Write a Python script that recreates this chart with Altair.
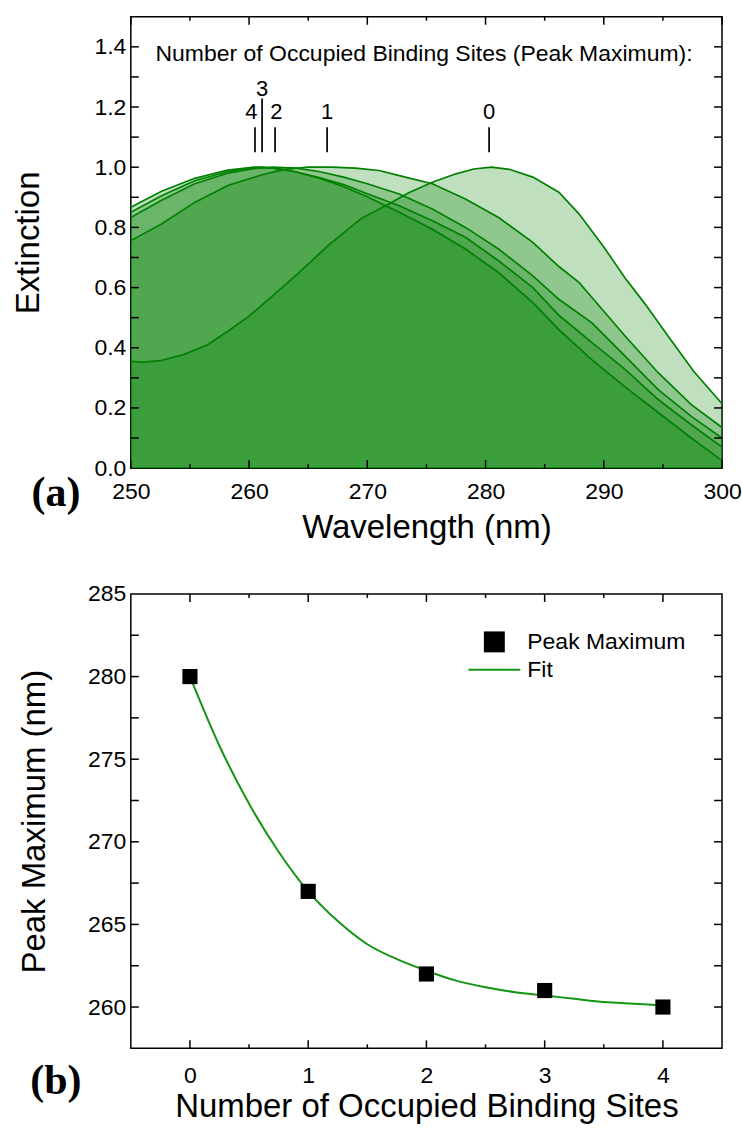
import altair as alt
import pandas as pd

# ---------------- Panel (a): extinction spectra ----------------
c0_x = [250, 251, 252.5, 254.5, 256.5, 258.2, 260, 262.5, 264.5, 266.7, 269.5, 271.7, 273.5, 275.5, 277.5, 279, 280.5, 282, 284, 286.2, 287.9, 290, 291.8, 293.5, 295.6, 297.6, 300]
c0_y = [0.355, 0.352, 0.357, 0.378, 0.41, 0.455, 0.505, 0.59, 0.66, 0.74, 0.83, 0.875, 0.915, 0.95, 0.978, 0.994, 1.0, 0.993, 0.967, 0.917, 0.845, 0.735, 0.632, 0.545, 0.43, 0.322, 0.214]

c1_x = [250, 252.6, 255.4, 258.2, 261.1, 263, 265, 267, 269, 271, 272.7, 275.5, 278.3, 281.1, 284, 286.2, 287.9, 289, 291.8, 294.6, 297.4, 300]
c1_y = [0.756, 0.811, 0.883, 0.939, 0.975, 0.993, 1.0, 1.0, 0.997, 0.989, 0.972, 0.945, 0.894, 0.833, 0.75, 0.67, 0.617, 0.567, 0.439, 0.317, 0.211, 0.135]

c2_x = [250, 252.6, 255.4, 258.2, 260.5, 262, 264, 266, 268, 270, 272.7, 275.5, 278.3, 281.1, 284, 286.2, 289, 291.8, 294.6, 297.4, 300]
c2_y = [0.833, 0.89, 0.945, 0.98, 0.996, 1.0, 0.997, 0.985, 0.967, 0.945, 0.911, 0.861, 0.8, 0.728, 0.639, 0.561, 0.483, 0.372, 0.261, 0.172, 0.1]

c3_x = [250, 252.6, 255.4, 258.2, 260, 261, 262.5, 264, 266, 268, 270, 272.7, 275.5, 278.3, 281.1, 284, 286.2, 289, 291.8, 294.6, 297.4, 300]
c3_y = [0.85, 0.905, 0.955, 0.985, 0.998, 1.0, 0.995, 0.984, 0.965, 0.942, 0.912, 0.872, 0.822, 0.767, 0.689, 0.6, 0.508, 0.417, 0.328, 0.228, 0.144, 0.07]

c4_x = [250, 252.6, 255.4, 258.2, 260.5, 262, 264, 266, 268, 270, 272.7, 275.5, 278.3, 281.1, 284, 286.2, 289, 291.8, 294.6, 297.4, 300]
c4_y = [0.867, 0.92, 0.963, 0.99, 1.0, 0.997, 0.984, 0.963, 0.935, 0.902, 0.85, 0.794, 0.728, 0.65, 0.55, 0.46, 0.36, 0.27, 0.185, 0.1, 0.025]

series_names = ["0", "1", "2", "3", "4"]

# peak-marker annotation
ann_x = [280.3, 266.6, 262.2, 261.1, 260.5]
ann_top = [1.133, 1.133, 1.133, 1.228, 1.133]
ann_bottom = [1.05, 1.05, 1.05, 1.05, 1.05]
ann_label_x = [280.3, 266.6, 262.3, 261.1, 260.2]
ann_label_y = [1.183, 1.183, 1.183, 1.261, 1.183]
ann_title = "Number of Occupied Binding Sites (Peak Maximum):"
ann_title_x = [274.8]
ann_title_y = [1.377]

# axis ticks panel (a)
a_xmajor = [250, 260, 270, 280, 290, 300]
a_xminor = [255, 265, 275, 285, 295]
a_yticks = [0.1, 0.2, 0.3, 0.4, 0.5, 0.6, 0.7, 0.8, 0.9, 1.0, 1.1, 1.2, 1.3, 1.4]
a_ylabels = [0.0, 0.2, 0.4, 0.6, 0.8, 1.0, 1.2, 1.4]

# ---------------- Panel (b): peak maximum vs sites ----------------
sites = [0, 1, 2, 3, 4]
peak_max = [280, 267, 262, 261, 260]
fit_x = [0.0, 0.25, 0.5, 0.75, 1.0, 1.25, 1.5, 1.75, 2.0, 2.25, 2.5, 2.75, 3.0, 3.25, 3.5, 3.75, 4.0]
fit_y = [280.0, 275.8, 272.3, 269.4, 267.0, 265.2, 263.8, 262.9, 262.2, 261.6, 261.2, 260.9, 260.7, 260.5, 260.3, 260.2, 260.1]
b_xmajor = [0, 1, 2, 3, 4]
b_xminor = [0.5, 1.5, 2.5, 3.5]
b_yticks = [260, 262.5, 265, 267.5, 270, 272.5, 275, 277.5, 280, 282.5]
b_ylabels = [260, 265, 270, 275, 280, 285]
legend_labels = ["Peak Maximum", "Fit"]

FONT = "Liberation Sans"
GREEN = "#008000"
FITGREEN = "#139413"
W, H = 592, 452
W2, H2 = 592, 455

# ---------- build panel (a) ----------
rows = []
for name, xs, ys in zip(series_names, [c0_x, c1_x, c2_x, c3_x, c4_x], [c0_y, c1_y, c2_y, c3_y, c4_y]):
    for x, y in zip(xs, ys):
        rows.append({"series": name, "wl": x, "ext": y})
spec = pd.DataFrame(rows)

xsc = alt.Scale(domain=[250, 300], nice=False, zero=False)
ysc = alt.Scale(domain=[0, 1.5], nice=False)

xax = alt.Axis(values=a_xmajor, title="Wavelength (nm)", labelPadding=12, titlePadding=8,
               ticks=False, tickSize=0, domain=False, grid=False, labelFlush=False)
yax = alt.Axis(values=a_ylabels, format=".1f", title="Extinction", labelPadding=5, titlePadding=48,
               ticks=False, tickSize=0, domain=False, grid=False)

base_a = alt.Chart(spec)
areas = base_a.mark_area(color=GREEN, fillOpacity=0.25, strokeWidth=0).encode(
    x=alt.X("wl:Q", scale=xsc, axis=xax),
    y=alt.Y("ext:Q", scale=ysc, axis=yax, stack=None),
    detail="series:N",
)
lines = base_a.mark_line(color=GREEN, strokeWidth=1.7).encode(
    x=alt.X("wl:Q", scale=xsc),
    y=alt.Y("ext:Q", scale=ysc),
    detail="series:N",
)

ann_df = pd.DataFrame({"x": ann_x, "top": ann_top, "bot": ann_bottom,
                       "lx": ann_label_x, "ly": ann_label_y, "t": series_names})
ann_rules = alt.Chart(ann_df).mark_rule(color="black", strokeWidth=1.7).encode(
    x=alt.X("x:Q", scale=xsc), y=alt.Y("bot:Q", scale=ysc), y2="top:Q")
ann_text = alt.Chart(ann_df).mark_text(font=FONT, fontSize=22, color="black", baseline="middle").encode(
    x=alt.X("lx:Q", scale=xsc), y=alt.Y("ly:Q", scale=ysc), text="t:N")
title_df = pd.DataFrame({"x": ann_title_x, "y": ann_title_y, "t": [ann_title]})
ann_title_mark = alt.Chart(title_df).mark_text(font=FONT, fontSize=23, color="black", baseline="middle").encode(
    x=alt.X("x:Q", scale=xsc), y=alt.Y("y:Q", scale=ysc), text="t:N")

def tick_layers_x(values, scale, length, h):
    df = pd.DataFrame({"v": values})
    bottom = alt.Chart(df).mark_rule(color="black", strokeWidth=1.5).encode(
        x=alt.X("v:Q", scale=scale), y=alt.value(h), y2=alt.value(h - length))
    top = alt.Chart(df).mark_rule(color="black", strokeWidth=1.5).encode(
        x=alt.X("v:Q", scale=scale), y=alt.value(0), y2=alt.value(length))
    return bottom + top

def tick_layers_y(values, scale, length, w):
    df = pd.DataFrame({"v": values})
    left = alt.Chart(df).mark_rule(color="black", strokeWidth=1.5).encode(
        y=alt.Y("v:Q", scale=scale), x=alt.value(0), x2=alt.value(length))
    right = alt.Chart(df).mark_rule(color="black", strokeWidth=1.5).encode(
        y=alt.Y("v:Q", scale=scale), x=alt.value(w), x2=alt.value(w - length))
    return left + right

label_a = alt.Chart(pd.DataFrame({"t": ["(a)"]})).mark_text(
    font="Liberation Serif", fontWeight="bold", fontSize=42, color="black", baseline="middle").encode(
    x=alt.value(-75), y=alt.value(477), text="t:N")

panel_a = alt.layer(
    areas, lines, ann_rules, ann_text, ann_title_mark,
    tick_layers_x(a_xmajor, xsc, 8, H), tick_layers_x(a_xminor, xsc, 4, H),
    tick_layers_y(a_yticks, ysc, 8, W), label_a,
).properties(width=W, height=H)

# ---------- build panel (b) ----------
xsc2 = alt.Scale(domain=[-0.5, 4.5], nice=False, zero=False)
ysc2 = alt.Scale(domain=[257.5, 285], nice=False, zero=False)

xax2 = alt.Axis(values=b_xmajor, format="d", title="Number of Occupied Binding Sites", labelPadding=16,
                titlePadding=3, ticks=False, tickSize=0, domain=False, grid=False)
yax2 = alt.Axis(values=b_ylabels, format="d", title="Peak Maximum (nm)", labelPadding=5, titlePadding=36,
                ticks=False, tickSize=0, domain=False, grid=False)

fit_df = pd.DataFrame({"x": fit_x, "y": fit_y})
fit_line = alt.Chart(fit_df).mark_line(color=FITGREEN, strokeWidth=2, interpolate="monotone").encode(
    x=alt.X("x:Q", scale=xsc2, axis=xax2), y=alt.Y("y:Q", scale=ysc2, axis=yax2))
pts_df = pd.DataFrame({"x": sites, "y": peak_max})
pts = alt.Chart(pts_df).mark_point(shape="square", filled=True, color="black", size=230, opacity=1).encode(
    x=alt.X("x:Q", scale=xsc2), y=alt.Y("y:Q", scale=ysc2))

leg_df = pd.DataFrame({"t": [legend_labels[0]]})
leg_sq = alt.Chart(leg_df).mark_point(shape="square", filled=True, color="black", size=440, opacity=1).encode(
    x=alt.value(364), y=alt.value(48))
leg_t1 = alt.Chart(leg_df).mark_text(font=FONT, fontSize=23, align="left", baseline="middle", color="black").encode(
    x=alt.value(397), y=alt.value(48), text="t:N")
leg_df2 = pd.DataFrame({"t": [legend_labels[1]]})
leg_ln = alt.Chart(leg_df2).mark_rule(color=FITGREEN, strokeWidth=2).encode(
    x=alt.value(338), x2=alt.value(390), y=alt.value(76))
leg_t2 = alt.Chart(leg_df2).mark_text(font=FONT, fontSize=23, align="left", baseline="middle", color="black").encode(
    x=alt.value(397), y=alt.value(76), text="t:N")

label_b = alt.Chart(pd.DataFrame({"t": ["(b)"]})).mark_text(
    font="Liberation Serif", fontWeight="bold", fontSize=42, color="black", baseline="middle").encode(
    x=alt.value(-75), y=alt.value(488), text="t:N")

panel_b = alt.layer(
    fit_line, pts, leg_sq, leg_t1, leg_ln, leg_t2,
    tick_layers_x(b_xmajor, xsc2, 8, H2), tick_layers_x(b_xminor, xsc2, 4, H2),
    tick_layers_y(b_yticks, ysc2, 8, W2), label_b,
).properties(width=W2, height=H2)

chart = alt.vconcat(panel_a, panel_b, spacing=37).properties(
    padding={"left": 12, "top": 14, "right": 0, "bottom": 0},
    background="white",
).configure_view(stroke="black", strokeWidth=1.5).configure_axis(
    labelFont=FONT, labelFontSize=23, labelColor="black",
    titleFont=FONT, titleFontSize=33, titleFontWeight="normal", titleColor="black",
)

chart.save("out.html", embed_options={"renderer": "svg", "actions": False})
